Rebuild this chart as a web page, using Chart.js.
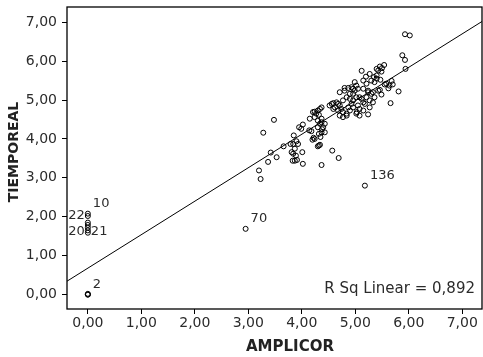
<!DOCTYPE html>
<html>
<head>
<meta charset="utf-8">
<script src="https://cdn.jsdelivr.net/npm/chart.js@4.4.1/dist/chart.umd.min.js"></script>
<style>
    html, body { margin: 0; padding: 0; background: #fff; }
    #wrap { position: relative; width: 483px; height: 357px; }
</style>
</head>
<body>
<div id="wrap"><canvas id="chart"></canvas></div>
<script>
// --- Data ---
const amplicor = [
    0, 0, 0, 0, 0, 0, 0, 0, 0, 0,
    2.95, 3.20, 3.23, 3.28, 3.48, 3.37, 3.42, 3.53, 3.66, 3.79, 5.18,
    3.84, 3.83, 3.87, 3.85, 3.90, 3.84, 3.93, 3.81, 3.89, 3.91, 3.87, 3.95, 3.99, 4.02, 4.02, 4.01,
    4.15, 4.21, 4.27, 4.24, 4.30, 4.18, 4.22, 4.20, 4.14, 4.32, 4.30, 4.32, 4.24, 4.30, 4.37, 4.34,
    4.43, 4.40, 4.37, 4.43, 4.34, 4.37, 4.57, 4.69, 4.34, 4.37, 4.32, 4.37, 4.30, 4.38, 4.35, 4.24,
    4.52, 4.56, 4.59, 4.65, 4.68, 4.62, 4.71, 4.74, 4.68, 4.77, 4.84, 4.90, 4.93, 4.87, 4.77, 4.84,
    4.71, 4.59, 4.90, 4.96, 4.71, 4.80, 4.87, 4.84, 4.77, 4.80, 4.96, 4.90, 4.99, 5.02, 4.96,
    5.03, 5.08, 5.15, 5.05, 5.18, 4.96, 5.02, 5.12, 5.21, 5.27, 5.33, 4.99, 5.05, 5.15, 5.24, 5.30,
    4.93, 5.08, 5.27, 5.36, 5.43, 5.08, 5.15, 5.02, 5.24,
    5.12, 5.27, 5.35, 5.40, 5.43, 5.49, 5.54, 5.46, 5.58, 5.64, 5.70, 5.68, 5.46, 5.49, 5.36, 5.30,
    5.21, 5.24, 5.33, 5.40, 5.50, 5.20, 5.15, 5.40, 5.47, 5.55, 5.62, 5.81, 5.66,
    5.88, 5.93, 5.93, 6.02, 5.94
];
const tiempoReal = [
    0, 0, 0.02, 2.08, 2.02, 1.85, 1.79, 1.72, 1.65, 1.59,
    1.69, 3.19, 2.97, 4.16, 4.49, 3.41, 3.65, 3.53, 3.81, 3.87, 2.80,
    3.62, 3.44, 3.75, 4.09, 3.94, 3.87, 3.87, 3.66, 3.57, 3.46, 3.44, 4.30, 4.26, 4.37, 3.36, 3.66,
    4.52, 4.69, 4.65, 4.56, 4.73, 4.20, 4.03, 3.98, 4.22, 4.13, 3.81, 3.83, 4.00, 4.47, 4.43, 4.39,
    4.39, 4.30, 4.17, 4.17, 3.85, 3.33, 3.70, 3.51, 4.77, 4.81, 4.62, 4.52, 4.30, 4.25, 4.05, 4.70,
    4.86, 4.90, 4.92, 4.94, 4.90, 4.81, 4.86, 4.77, 4.73, 4.99, 5.07, 5.03, 4.90, 4.81, 4.69, 4.65,
    4.60, 4.77, 4.73, 5.16, 5.20, 5.24, 5.31, 4.60, 4.56, 5.31, 4.81, 5.16, 5.46, 5.37, 5.29,
    4.69, 4.77, 4.73, 4.86, 4.90, 4.99, 5.07, 5.03, 5.07, 4.99, 4.94, 5.24, 5.29, 5.29, 5.20, 5.16,
    5.33, 4.60, 4.81, 5.07, 5.24, 5.07, 4.94, 4.65, 4.63,
    5.75, 5.67, 5.59, 5.63, 5.76, 5.73, 5.90, 5.86, 5.42, 5.37, 5.40, 5.49, 5.26, 5.14, 5.46, 5.50,
    5.42, 5.24, 5.20, 5.80, 5.82, 5.60, 5.50, 5.55, 5.52, 5.40, 5.30, 5.22, 4.92,
    6.15, 6.03, 6.69, 6.66, 5.80
];

// labelled cases
const caseIds = ['2', '10', '22', '20', '21', '70', '136'];
const caseX = [0, 0, 0, 0, 0, 2.95, 5.18];
const caseY = [0, 2.08, 2.02, 1.62, 1.62, 1.69, 2.80];

const xTicks = [0, 1, 2, 3, 4, 5, 6, 7];
const yTicks = [0, 1, 2, 3, 4, 5, 6, 7];
const xRange = [-0.39, 7.37];
const yRange = [-0.37, 7.39];

const fitIntercept = 0.68;
const fitSlope = 0.86;
const rSquare = 0.892;

const xTitle = 'AMPLICOR';
const yTitle = 'TIEMPOREAL';

// --- helpers ---
const fmt = v => Number(v).toFixed(2).replace('.', ',');
const points = amplicor.map((x, i) => ({ x, y: tiempoReal[i] }));
const fitLine = xRange.map(x => ({ x, y: fitIntercept + fitSlope * x }));
const FONT = '"DejaVu Sans", "Liberation Sans", Arial, sans-serif';
const TEXT = '#2b2b2b';

const extras = {
    id: 'extras',
    afterDraw(chart) {
        const { ctx, chartArea: a, scales } = chart;
        ctx.save();

        // frame
        ctx.strokeStyle = '#000';
        ctx.lineWidth = 1.3;
        ctx.strokeRect(a.left, a.top, a.right - a.left, a.bottom - a.top);

        // case labels
        ctx.fillStyle = TEXT;
        ctx.font = '13px ' + FONT;
        ctx.textBaseline = 'middle';
        const onLeft = new Set(['22', '20']);
        caseIds.forEach((id, i) => {
            const px = scales.x.getPixelForValue(caseX[i]);
            const py = scales.y.getPixelForValue(caseY[i]);
            if (onLeft.has(id)) {
                ctx.textAlign = 'right';
                ctx.fillText(id, px - 3, py);
            } else if (id === '21') {
                ctx.textAlign = 'left';
                ctx.fillText(id, px + 3, py);
            } else {
                ctx.textAlign = 'left';
                ctx.fillText(id, px + 5, py - 10);
            }
        });

        // R square note
        ctx.font = '15px ' + FONT;
        ctx.textAlign = 'right';
        ctx.fillText('R Sq Linear = ' + rSquare.toFixed(3).replace('.', ','), a.right - 7, a.bottom - 20);

        // axis titles
        ctx.fillStyle = '#222';
        ctx.font = 'bold 15px ' + FONT;
        ctx.textAlign = 'center';
        ctx.fillText(xTitle, 290, 347);
        ctx.font = 'bold 14px ' + FONT;
        ctx.translate(14, 152);
        ctx.rotate(-Math.PI / 2);
        ctx.fillText(yTitle, 0, 0);

        ctx.restore();
    }
};

const tickFont = { family: FONT, size: 14 };

new Chart(document.getElementById('chart'), {
    type: 'scatter',
    data: {
        datasets: [
            {
                data: points,
                pointStyle: 'circle',
                pointRadius: 2.5,
                pointBorderWidth: 1,
                pointBorderColor: '#000',
                pointBackgroundColor: 'rgba(0,0,0,0)'
            },
            {
                data: fitLine,
                showLine: true,
                borderColor: '#000',
                borderWidth: 1,
                pointRadius: 0
            }
        ]
    },
    options: {
        responsive: true,
        maintainAspectRatio: false,
        animation: false,
        devicePixelRatio: 1,
        layout: { autoPadding: false, padding: { top: 7, right: 1, left: 0, bottom: 0 } },
        plugins: { legend: { display: false }, tooltip: { enabled: false } },
        scales: {
            x: {
                type: 'linear',
                min: xRange[0],
                max: xRange[1],
                afterBuildTicks: s => { s.ticks = xTicks.map(v => ({ value: v })); },
                afterFit: s => { s.height = 48; s.paddingLeft = 0; s.paddingRight = 0; },
                border: { display: false },
                grid: { drawOnChartArea: false, tickLength: 5, color: '#000', lineWidth: 1 },
                ticks: { font: tickFont, color: TEXT, padding: 1, maxRotation: 0, autoSkip: false, callback: v => fmt(v) }
            },
            y: {
                type: 'linear',
                min: yRange[0],
                max: yRange[1],
                afterBuildTicks: s => { s.ticks = yTicks.map(v => ({ value: v })); },
                afterFit: s => { s.width = 67; s.paddingTop = 0; s.paddingBottom = 0; },
                border: { display: false },
                grid: { drawOnChartArea: false, tickLength: 5, color: '#000', lineWidth: 1 },
                ticks: { font: tickFont, color: TEXT, padding: 5, autoSkip: false, callback: v => fmt(v) }
            }
        }
    },
    plugins: [extras]
});
</script>
</body>
</html>
